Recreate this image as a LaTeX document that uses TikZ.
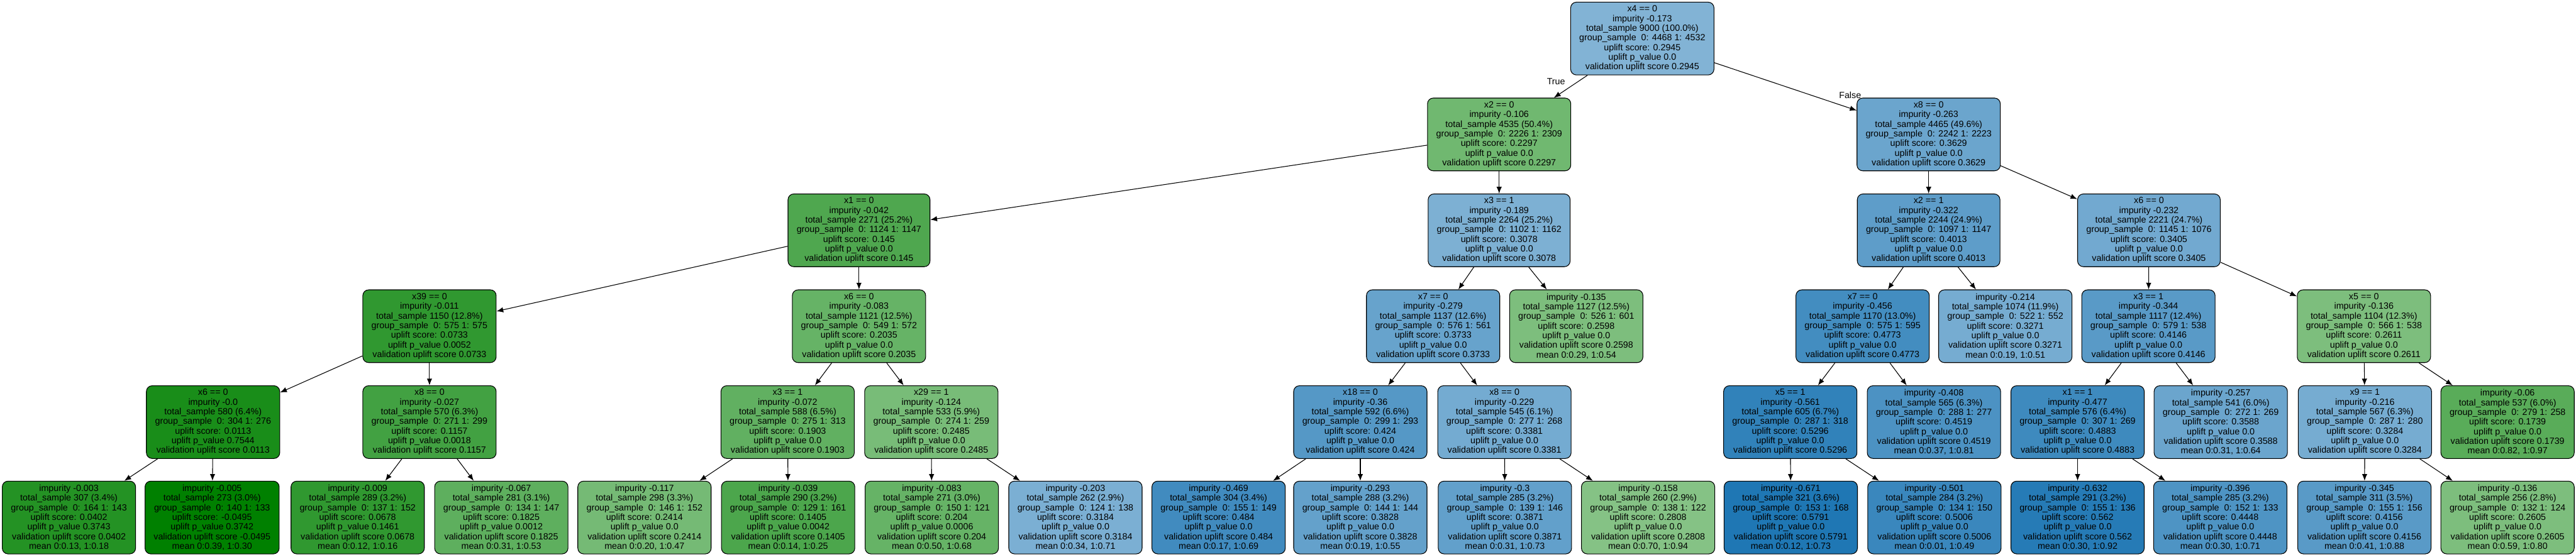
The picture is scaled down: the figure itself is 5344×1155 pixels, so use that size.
\documentclass[tikz,border=0pt]{standalone}
\usepackage{fontspec}
\setmainfont{Liberation Sans}
\usetikzlibrary{arrows.meta}

\definecolor{upblue}{HTML}{1F77B4}
\definecolor{upgreen}{HTML}{008000}

% text of a split node and of a leaf
\newcommand{\splitinfo}[7]{#1\\impurity #2\\total\_sample #3\\group\_sample\ \ 0: #4 1: #5\\uplift score: #6\\uplift p\_value #7\\validation uplift score #6}
\newcommand{\leafinfo}[7]{impurity #1\\total\_sample #2\\group\_sample\ \ 0: #3 1: #4\\uplift score: #5\\uplift p\_value #6\\validation uplift score #5\\mean #7}

\tikzset{
  tnode/.style={draw, line width=0.8pt, rounded corners=2.4mm, align=center,
    minimum height=3.02cm, minimum width=5.4cm, inner xsep=0.36cm,
    font=\fontsize{10.6}{11.38}\selectfont},
  tarrow/.style={-{Latex[length=2.8mm,width=2.2mm]}, line width=0.8pt},
  elabel/.style={font=\fontsize{10.6}{11.38}\selectfont},
}

\begin{document}
\begin{tikzpicture}[x=0.2mm, y=-0.2mm]
\useasboundingbox (0,0) rectangle (5344,1155);

% nodes
\node (n0) [tnode, fill=upblue!56] at (3407,80) {\splitinfo{x4 == 0}{-0.173}{9000 (100.0\%)}{4468}{4532}{0.2945}{0.0}};

\node (n1) [tnode, fill=upgreen!56] at (3110,279) {\splitinfo{x2 == 0}{-0.106}{4535 (50.4\%)}{2226}{2309}{0.2297}{0.0}};
\node (n2) [tnode, fill=upblue!66] at (4001,279) {\splitinfo{x8 == 0}{-0.263}{4465 (49.6\%)}{2242}{2223}{0.3629}{0.0}};

\node (n3) [tnode, fill=upgreen!69] at (1782,478) {\splitinfo{x1 == 0}{-0.042}{2271 (25.2\%)}{1124}{1147}{0.145}{0.0}};
\node (n4) [tnode, fill=upblue!58] at (3110,478) {\splitinfo{x3 == 1}{-0.189}{2264 (25.2\%)}{1102}{1162}{0.3078}{0.0}};
\node (n5) [tnode, fill=upblue!72] at (4001,478) {\splitinfo{x2 == 1}{-0.322}{2244 (24.9\%)}{1097}{1147}{0.4013}{0.0}};
\node (n6) [tnode, fill=upblue!63] at (4458,478) {\splitinfo{x6 == 0}{-0.232}{2221 (24.7\%)}{1145}{1076}{0.3405}{0.0}};

\node (n7) [tnode, fill=upgreen!81] at (891,677) {\splitinfo{x39 == 0}{-0.011}{1150 (12.8\%)}{575}{575}{0.0733}{0.0052}};
\node (n8) [tnode, fill=upgreen!60] at (1782,677) {\splitinfo{x6 == 0}{-0.083}{1121 (12.5\%)}{549}{572}{0.2035}{0.0}};
\node (n9) [tnode, fill=upblue!68] at (2973,677) {\splitinfo{x7 == 0}{-0.279}{1137 (12.6\%)}{576}{561}{0.3733}{0.0}};
\node (n10) [tnode, fill=upgreen!51] at (3270,677) {\leafinfo{-0.135}{1127 (12.5\%)}{526}{601}{0.2598}{0.0}{0:0.29, 1:0.54}};
\node (n11) [tnode, fill=upblue!84] at (3864,677) {\splitinfo{x7 == 0}{-0.456}{1170 (13.0\%)}{575}{595}{0.4773}{0.0}};
\node (n12) [tnode, fill=upblue!61] at (4160,677) {\leafinfo{-0.214}{1074 (11.9\%)}{522}{552}{0.3271}{0.0}{0:0.19, 1:0.51}};
\node (n13) [tnode, fill=upblue!74] at (4457,677) {\splitinfo{x3 == 1}{-0.344}{1117 (12.4\%)}{579}{538}{0.4146}{0.0}};
\node (n14) [tnode, fill=upgreen!51] at (4904,677) {\splitinfo{x5 == 0}{-0.136}{1104 (12.3\%)}{566}{538}{0.2611}{0.0}};

\node (n15) [tnode, fill=upgreen!90] at (442,876) {\splitinfo{x6 == 0}{-0.0}{580 (6.4\%)}{304}{276}{0.0113}{0.7544}};
\node (n16) [tnode, fill=upgreen!74] at (891,876) {\splitinfo{x8 == 0}{-0.027}{570 (6.3\%)}{271}{299}{0.1157}{0.0018}};
\node (n17) [tnode, fill=upgreen!62] at (1634,876) {\splitinfo{x3 == 1}{-0.072}{588 (6.5\%)}{275}{313}{0.1903}{0.0}};
\node (n18) [tnode, fill=upgreen!53] at (1932,876) {\splitinfo{x29 == 1}{-0.124}{533 (5.9\%)}{274}{259}{0.2485}{0.0}};
\node (n19) [tnode, fill=upblue!76] at (2822,876) {\splitinfo{x18 == 0}{-0.36}{592 (6.6\%)}{299}{293}{0.424}{0.0}};
\node (n20) [tnode, fill=upblue!62] at (3121,876) {\splitinfo{x8 == 0}{-0.229}{545 (6.1\%)}{277}{268}{0.3381}{0.0}};
\node (n21) [tnode, fill=upblue!92] at (3714,876) {\splitinfo{x5 == 1}{-0.561}{605 (6.7\%)}{287}{318}{0.5296}{0.0}};
\node (n22) [tnode, fill=upblue!80] at (4012,876) {\leafinfo{-0.408}{565 (6.3\%)}{288}{277}{0.4519}{0.0}{0:0.37, 1:0.81}};
\node (n23) [tnode, fill=upblue!86] at (4310,876) {\splitinfo{x1 == 1}{-0.477}{576 (6.4\%)}{307}{269}{0.4883}{0.0}};
\node (n24) [tnode, fill=upblue!66] at (4607,876) {\leafinfo{-0.257}{541 (6.0\%)}{272}{269}{0.3588}{0.0}{0:0.31, 1:0.64}};
\node (n25) [tnode, fill=upblue!61] at (4906,876) {\splitinfo{x9 == 1}{-0.216}{567 (6.3\%)}{287}{280}{0.3284}{0.0}};
\node (n26) [tnode, fill=upgreen!65] at (5202,876) {\leafinfo{-0.06}{537 (6.0\%)}{279}{258}{0.1739}{0.0}{0:0.82, 1:0.97}};

\node (n27) [tnode, fill=upgreen!86] at (143,1074) {\leafinfo{-0.003}{307 (3.4\%)}{164}{143}{0.0402}{0.3743}{0:0.13, 1:0.18}};
\node (n28) [tnode, fill=upgreen!100] at (440,1074) {\leafinfo{-0.005}{273 (3.0\%)}{140}{133}{-0.0495}{0.3742}{0:0.39, 1:0.30}};
\node (n29) [tnode, fill=upgreen!81] at (742,1074) {\leafinfo{-0.009}{289 (3.2\%)}{137}{152}{0.0678}{0.1461}{0:0.12, 1:0.16}};
\node (n30) [tnode, fill=upgreen!63] at (1040,1074) {\leafinfo{-0.067}{281 (3.1\%)}{134}{147}{0.1825}{0.0012}{0:0.31, 1:0.53}};
\node (n31) [tnode, fill=upgreen!54] at (1337,1074) {\leafinfo{-0.117}{298 (3.3\%)}{146}{152}{0.2414}{0.0}{0:0.20, 1:0.47}};
\node (n32) [tnode, fill=upgreen!70] at (1635,1074) {\leafinfo{-0.039}{290 (3.2\%)}{129}{161}{0.1405}{0.0042}{0:0.14, 1:0.25}};
\node (n33) [tnode, fill=upgreen!60] at (1933,1074) {\leafinfo{-0.083}{271 (3.0\%)}{150}{121}{0.204}{0.0006}{0:0.50, 1:0.68}};
\node (n34) [tnode, fill=upblue!59] at (2231,1074) {\leafinfo{-0.203}{262 (2.9\%)}{124}{138}{0.3184}{0.0}{0:0.34, 1:0.71}};
\node (n35) [tnode, fill=upblue!85] at (2528,1074) {\leafinfo{-0.469}{304 (3.4\%)}{155}{149}{0.484}{0.0}{0:0.17, 1:0.69}};
\node (n36) [tnode, fill=upblue!69] at (2822,1074) {\leafinfo{-0.293}{288 (3.2\%)}{144}{144}{0.3828}{0.0}{0:0.19, 1:0.55}};
\node (n37) [tnode, fill=upblue!70] at (3122,1074) {\leafinfo{-0.3}{285 (3.2\%)}{139}{146}{0.3871}{0.0}{0:0.31, 1:0.73}};
\node (n38) [tnode, fill=upgreen!48] at (3419,1074) {\leafinfo{-0.158}{260 (2.9\%)}{138}{122}{0.2808}{0.0}{0:0.70, 1:0.94}};
\node (n39) [tnode, fill=upblue!100] at (3715,1074) {\leafinfo{-0.671}{321 (3.6\%)}{153}{168}{0.5791}{0.0}{0:0.12, 1:0.73}};
\node (n40) [tnode, fill=upblue!88] at (4013,1074) {\leafinfo{-0.501}{284 (3.2\%)}{134}{150}{0.5006}{0.0}{0:0.01, 1:0.49}};
\node (n41) [tnode, fill=upblue!97] at (4310,1074) {\leafinfo{-0.632}{291 (3.2\%)}{155}{136}{0.562}{0.0}{0:0.30, 1:0.92}};
\node (n42) [tnode, fill=upblue!79] at (4606,1074) {\leafinfo{-0.396}{285 (3.2\%)}{152}{133}{0.4448}{0.0}{0:0.30, 1:0.71}};
\node (n43) [tnode, fill=upblue!74] at (4905,1074) {\leafinfo{-0.345}{311 (3.5\%)}{155}{156}{0.4156}{0.0}{0:0.41, 1:0.88}};
\node (n44) [tnode, fill=upgreen!51] at (5202,1074) {\leafinfo{-0.136}{256 (2.8\%)}{132}{124}{0.2605}{0.0}{0:0.59, 1:0.80}};

% edge labels
\node (ltrue) [elabel] at (3228,169) {True};
\node (lfalse) [elabel] at (3838,197) {False};

% arrows
\draw[tarrow] (n0) -- (n1);
\draw[tarrow] (n0) -- (n2);
\draw[tarrow] (n1) -- (n3);
\draw[tarrow] (n1) -- (n4);
\draw[tarrow] (n2) -- (n5);
\draw[tarrow] (n2) -- (n6);
\draw[tarrow] (n3) -- (n7);
\draw[tarrow] (n3) -- (n8);
\draw[tarrow] (n4) -- (n9);
\draw[tarrow] (n4) -- (n10);
\draw[tarrow] (n5) -- (n11);
\draw[tarrow] (n5) -- (n12);
\draw[tarrow] (n6) -- (n13);
\draw[tarrow] (n6) -- (n14);
\draw[tarrow] (n7) -- (n15);
\draw[tarrow] (n7) -- (n16);
\draw[tarrow] (n8) -- (n17);
\draw[tarrow] (n8) -- (n18);
\draw[tarrow] (n9) -- (n19);
\draw[tarrow] (n9) -- (n20);
\draw[tarrow] (n11) -- (n21);
\draw[tarrow] (n11) -- (n22);
\draw[tarrow] (n13) -- (n23);
\draw[tarrow] (n13) -- (n24);
\draw[tarrow] (n14) -- (n25);
\draw[tarrow] (n14) -- (n26);
\draw[tarrow] (n15) -- (n27);
\draw[tarrow] (n15) -- (n28);
\draw[tarrow] (n16) -- (n29);
\draw[tarrow] (n16) -- (n30);
\draw[tarrow] (n17) -- (n31);
\draw[tarrow] (n17) -- (n32);
\draw[tarrow] (n18) -- (n33);
\draw[tarrow] (n18) -- (n34);
\draw[tarrow] (n19) -- (n35);
\draw[tarrow] (n19) -- (n36);
\draw[tarrow] (n20) -- (n37);
\draw[tarrow] (n20) -- (n38);
\draw[tarrow] (n21) -- (n39);
\draw[tarrow] (n21) -- (n40);
\draw[tarrow] (n23) -- (n41);
\draw[tarrow] (n23) -- (n42);
\draw[tarrow] (n25) -- (n43);
\draw[tarrow] (n25) -- (n44);
\end{tikzpicture}
\end{document}
